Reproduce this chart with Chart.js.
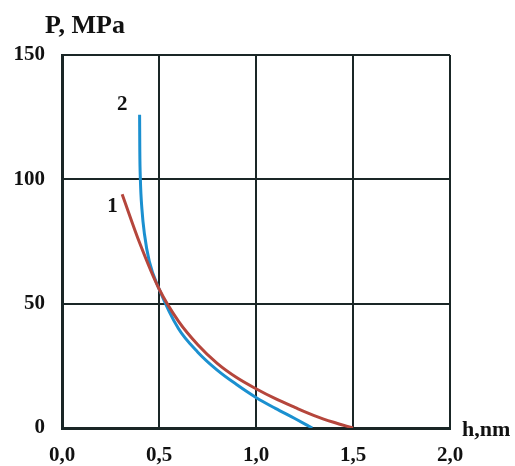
<!DOCTYPE html>
<html>
<head>
<meta charset="utf-8">
<script src="https://cdn.jsdelivr.net/npm/chart.js@4"></script>
<style>
  html, body { margin: 0; padding: 0; background: #fff; }
  #wrap { width: 515px; height: 466px; }
</style>
</head>
<body>
<div id="wrap"><canvas id="chart" width="515" height="466"></canvas></div>
<script>
// curve 1 (red)
const h1 = [0.31, 0.4, 0.5, 0.6, 0.7, 0.8, 0.9, 1.0, 1.1, 1.2, 1.3, 1.4, 1.5];
const p1 = [94, 74.5, 56, 43, 33.5, 26, 20.3, 15.8, 11.8, 8.3, 5, 2.3, 0];
// curve 2 (blue)
const h2 = [0.400, 0.401, 0.404, 0.412, 0.425, 0.45, 0.5, 0.6, 0.7, 0.8, 0.9, 1.0, 1.1, 1.2, 1.29];
const p2 = [126, 112, 100, 88, 78, 67, 56, 40, 30.5, 23.3, 17.5, 12.3, 7.9, 3.8, 0];
const xTicks = [0, 0.5, 1.0, 1.5, 2.0];
const yTicks = [0, 50, 100, 150];
const curveLabels = ['1', '2'];
const labelPos = [[0.26, 89], [0.31, 130]];

const toPoints = (xs, ys) => xs.map((x, i) => ({ x: x, y: ys[i] }));
const serif = '"Liberation Serif", "Times New Roman", serif';

// extra texts: axis names and curve numbers
const textPlugin = {
  id: 'texts',
  afterDraw(chart) {
    const ctx = chart.ctx;
    const xs = chart.scales.x, ys = chart.scales.y;
    ctx.save();
    ctx.fillStyle = '#111';
    ctx.font = 'bold 26px ' + serif;
    ctx.textAlign = 'left';
    ctx.textBaseline = 'alphabetic';
    ctx.fillText('P, MPa', 45, 33);
    ctx.font = 'bold 22px ' + serif;
    ctx.fillText('h,nm', 462, 436);
    ctx.textAlign = 'center';
    ctx.textBaseline = 'middle';
    ctx.font = 'bold 21px ' + serif;
    curveLabels.forEach((t, i) => {
      ctx.fillText(t, xs.getPixelForValue(labelPos[i][0]), ys.getPixelForValue(labelPos[i][1]));
    });
    ctx.restore();
  }
};

new Chart(document.getElementById('chart'), {
  type: 'scatter',
  data: {
    datasets: [
      {
        label: '1',
        data: toPoints(h1, p1),
        showLine: true,
        borderColor: '#b5463c',
        borderWidth: 3,
        pointRadius: 0,
        cubicInterpolationMode: 'monotone'
      },
      {
        label: '2',
        data: toPoints(h2, p2),
        showLine: true,
        borderColor: '#1b90d0',
        borderWidth: 3,
        pointRadius: 0,
        cubicInterpolationMode: 'monotone'
      }
    ]
  },
  options: {
    responsive: false,
    animation: false,
    layout: { padding: { top: 55, right: 65, left: 0, bottom: 0 } },
    plugins: { legend: { display: false }, tooltip: { enabled: false } },
    scales: {
      x: {
        type: 'linear',
        min: 0, max: 2,
        afterBuildTicks: s => { s.ticks = xTicks.map(v => ({ value: v })); },
        afterFit: s => { s.height = 38; },
        grid: { color: '#1a2626', lineWidth: 2, drawTicks: false },
        border: { color: '#1a2626', width: 3 },
        ticks: {
          padding: 15,
          color: '#111',
          font: { family: serif, size: 21, weight: 'bold' },
          callback: v => v.toFixed(1).replace('.', ',')
        }
      },
      y: {
        type: 'linear',
        min: 0, max: 150,
        afterBuildTicks: s => { s.ticks = yTicks.map(v => ({ value: v })); },
        afterFit: s => { s.width = 62; },
        grid: { color: '#1a2626', lineWidth: 2, drawTicks: false },
        border: { color: '#1a2626', width: 3 },
        ticks: {
          padding: 17,
          color: '#111',
          font: { family: serif, size: 21, weight: 'bold' }
        }
      }
    }
  },
  plugins: [textPlugin]
});
</script>
</body>
</html>
